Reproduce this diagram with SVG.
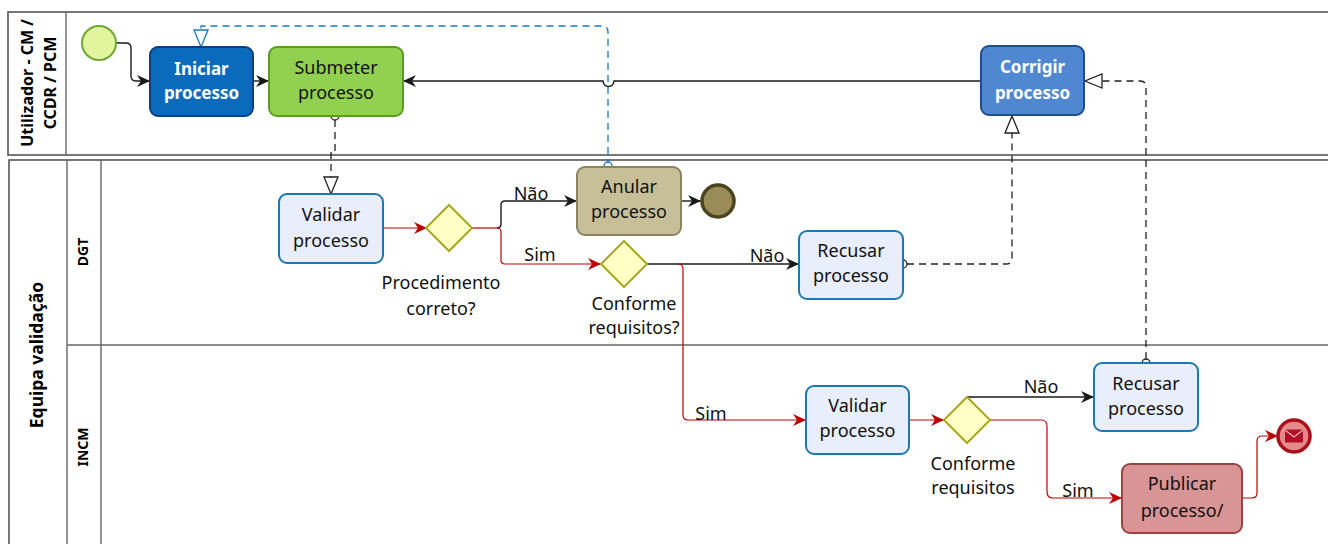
<svg xmlns="http://www.w3.org/2000/svg" width="1328" height="544" viewBox="0 0 1328 544">
<style>
.pool{fill:#fff;stroke:#555;stroke-width:1.6}
.lane{fill:none;stroke:#666;stroke-width:1.4}
.lbl{font-family:"Noto Sans","Liberation Sans",sans-serif;font-weight:bold;fill:#000}
.t{font-family:"Noto Sans","Liberation Sans",sans-serif;font-size:18px;fill:#111;text-anchor:middle}
.tb{font-family:"Noto Sans","Liberation Sans",sans-serif;font-size:17px;font-weight:bold;fill:#fff;text-anchor:middle}
.task{fill:#e9eefc;stroke:#1f77b0;stroke-width:2}
.gw{fill:#ffffc6;stroke:#a8a820;stroke-width:2}
.seq{fill:none;stroke:#1a1a1a;stroke-width:1.4}
.red{fill:none;stroke:#c00000;stroke-width:1.2}
.msg{fill:none;stroke:#222;stroke-width:1.3;stroke-dasharray:7,5}
.msgb{fill:none;stroke:#1a7ac0;stroke-width:1.3;stroke-dasharray:7,5}
</style>
<defs>
<marker id="aB" markerUnits="userSpaceOnUse" markerWidth="14" markerHeight="12" refX="13" refY="6" orient="auto"><path d="M0,0 L13,6 L0,12 L4,6 z" fill="#1a1a1a"/></marker>
<marker id="aR" markerUnits="userSpaceOnUse" markerWidth="14" markerHeight="12" refX="13" refY="6" orient="auto"><path d="M0,0 L13,6 L0,12 L4,6 z" fill="#c00000"/></marker>
<marker id="oT" markerUnits="userSpaceOnUse" markerWidth="20" markerHeight="16" refX="18" refY="8" orient="auto"><path d="M1,1 L18,8 L1,15 z" fill="#fff" stroke="#222" stroke-width="1.3"/></marker>
<marker id="oTb" markerUnits="userSpaceOnUse" markerWidth="20" markerHeight="16" refX="18" refY="8" orient="auto"><path d="M1,1 L18,8 L1,15 z" fill="#fff" stroke="#1a7ac0" stroke-width="1.3"/></marker>
</defs>

<g id="pool-utilizador">
<rect class="pool" x="8" y="12" width="1330" height="143"/>
<line class="lane" x1="66" y1="12" x2="66" y2="155"/>
<text class="lbl" font-size="16" text-anchor="middle" transform="translate(33,83) rotate(-90)"><tspan x="0" y="0">Utilizador - CM /</tspan><tspan x="0" y="23">CCDR / PCM</tspan></text>
</g>

<g id="pool-equipa">
<rect class="pool" x="9" y="160" width="1330" height="400"/>
<line class="lane" x1="67" y1="160" x2="67" y2="560"/>
<line class="lane" x1="101" y1="160" x2="101" y2="560"/>
<line class="lane" x1="67" y1="345" x2="1338" y2="345"/>
<text class="lbl" font-size="17.5" text-anchor="middle" transform="translate(43,355) rotate(-90)">Equipa validação</text>
<text class="lbl" font-size="14" text-anchor="middle" transform="translate(88,252) rotate(-90)">DGT</text>
<text class="lbl" font-size="14" text-anchor="middle" transform="translate(88,447) rotate(-90)">INCM</text>
</g>

<g id="connectors">
<path class="seq" d="M116,43 H126 Q131,43 131,48 V76 Q131,81 136,81 H150" marker-end="url(#aB)"/>
<path class="seq" d="M253,81 H269" marker-end="url(#aB)"/>
<path class="seq" d="M981,81 H614 A5.5,5.5 0 0 1 603,81 H403" marker-end="url(#aB)"/>
<path class="msgb" d="M608,166 V32 Q608,26 602,26 H201 V47" marker-end="url(#oTb)"/>
<circle cx="608" cy="166" r="4" fill="#fff" stroke="#1a7ac0" stroke-width="1.3"/>
<path class="msg" d="M335,120 V153 H331 V194" marker-end="url(#oT)"/>
<circle cx="335" cy="116" r="4" fill="#fff" stroke="#222" stroke-width="1.3"/>
<path class="red" d="M383,228 H427" marker-end="url(#aR)"/>
<path class="red" d="M472,228 H497"/>
<path class="seq" d="M497,228 Q501,228 501,224 V205 Q501,201 505,201 H577" marker-end="url(#aB)"/>
<path class="red" d="M497,228 Q501,228 501,232 V260 Q501,264 505,264 H601" marker-end="url(#aR)"/>
<path class="seq" d="M681,201 H701" marker-end="url(#aB)"/>
<path class="seq" d="M647,264 H799" marker-end="url(#aB)"/>
<path class="red" d="M678,264 Q683,264 683,269 V415 Q683,420 688,420 H806" marker-end="url(#aR)"/>
<path class="msg" d="M907,264 H1006 Q1012,264 1012,258 V116" marker-end="url(#oT)"/>
<circle cx="903" cy="264" r="4" fill="#fff" stroke="#222" stroke-width="1.3"/>
<path class="red" d="M909,420 H944" marker-end="url(#aR)"/>
<path class="seq" d="M967,397 H1094" marker-end="url(#aB)"/>
<path class="red" d="M990,420 H1041 Q1047,420 1047,426 V492 Q1047,498 1053,498 H1122" marker-end="url(#aR)"/>
<path class="msg" d="M1146,359 V87 Q1146,81 1140,81 H1085" marker-end="url(#oT)"/>
<circle cx="1146" cy="363" r="4" fill="#fff" stroke="#222" stroke-width="1.3"/>
<path class="red" d="M1242,498 H1252 Q1257,498 1257,493 V441 Q1257,436 1262,436 H1278" marker-end="url(#aR)"/>
<text class="t" x="531" y="200">Não</text>
<text class="t" x="540" y="261">Sim</text>
<text class="t" x="767" y="262">Não</text>
<text class="t" x="711" y="420">Sim</text>
<text class="t" x="1041" y="393">Não</text>
<text class="t" x="1078" y="497">Sim</text>
</g>

<g id="start">
<circle cx="99" cy="43" r="17" fill="#e2f59e" stroke="#6ca832" stroke-width="2"/>
</g>

<g id="iniciar">
<rect x="150" y="47" width="103" height="69" rx="8" fill="#0a6bbd" stroke="#0b3f80" stroke-width="2"/>
<text class="tb" x="201.5" y="75">Iniciar</text>
<text class="tb" x="201.5" y="99">processo</text>
</g>

<g id="submeter">
<rect x="269" y="47" width="134" height="69" rx="8" fill="#92d050" stroke="#5a9c24" stroke-width="2"/>
<text class="t" x="336" y="74">Submeter</text>
<text class="t" x="336" y="99">processo</text>
</g>

<g id="corrigir">
<rect x="981" y="46" width="103" height="69" rx="8" fill="#4f87d1" stroke="#1d4e8e" stroke-width="2"/>
<text class="tb" x="1032.5" y="73">Corrigir</text>
<text class="tb" x="1032.5" y="99">processo</text>
</g>

<g id="validar-dgt">
<rect class="task" x="279" y="194" width="104" height="69" rx="8"/>
<text class="t" x="331" y="221">Validar</text>
<text class="t" x="331" y="247">processo</text>
</g>

<g id="gw-procedimento">
<polygon class="gw" points="449,205 472,228 449,251 426,228"/>
<text class="t" x="441" y="289">Procedimento</text>
<text class="t" x="441" y="315">correto?</text>
</g>

<g id="anular">
<rect x="577" y="167" width="104" height="68" rx="8" fill="#c7bf98" stroke="#8b8462" stroke-width="2"/>
<text class="t" x="629" y="193">Anular</text>
<text class="t" x="629" y="218">processo</text>
</g>

<g id="end-anular">
<circle cx="718" cy="201" r="16" fill="#9a8c58" stroke="#4a4420" stroke-width="3.5"/>
</g>

<g id="gw-conforme-dgt">
<polygon class="gw" points="624,241 647,264 624,287 601,264"/>
<text class="t" x="634" y="310">Conforme</text>
<text class="t" x="634" y="334">requisitos?</text>
</g>

<g id="recusar-dgt">
<rect class="task" x="799" y="231" width="104" height="68" rx="8"/>
<text class="t" x="851" y="257">Recusar</text>
<text class="t" x="851" y="282">processo</text>
</g>

<g id="validar-incm">
<rect class="task" x="806" y="386" width="103" height="68" rx="8"/>
<text class="t" x="857.5" y="412">Validar</text>
<text class="t" x="857.5" y="437">processo</text>
</g>

<g id="gw-conforme-incm">
<polygon class="gw" points="967,397 990,420 967,443 944,420"/>
<text class="t" x="973" y="470">Conforme</text>
<text class="t" x="973" y="494">requisitos</text>
</g>

<g id="recusar-incm">
<rect class="task" x="1094" y="363" width="104" height="68" rx="8"/>
<text class="t" x="1146" y="390">Recusar</text>
<text class="t" x="1146" y="415">processo</text>
</g>

<g id="publicar">
<rect x="1122" y="464" width="120" height="69" rx="8" fill="#d99595" stroke="#9a4343" stroke-width="2"/>
<text class="t" x="1182" y="490">Publicar</text>
<text class="t" x="1182" y="517">processo/</text>
</g>

<g id="end-message">
<circle cx="1294" cy="436" r="16" fill="#e58a8a" stroke="#a8101c" stroke-width="3.5"/>
<rect x="1285" y="429.5" width="18" height="13" fill="#b0102a"/>
<polyline points="1285,430 1294,437 1303,430" fill="none" stroke="#f0b0b0" stroke-width="1.2"/>
</g>
</svg>
